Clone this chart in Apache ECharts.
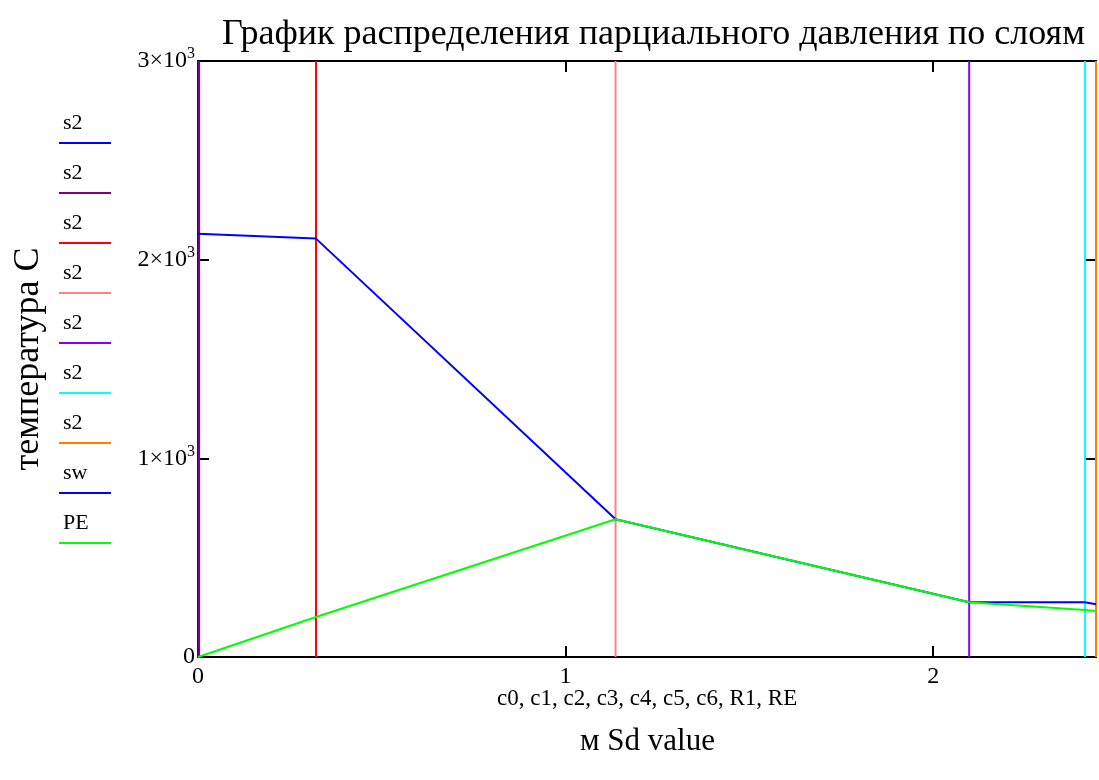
<!DOCTYPE html>
<html>
<head>
<meta charset="utf-8">
<script src="https://cdn.jsdelivr.net/npm/echarts@6/dist/echarts.min.js"></script>
<style>
html,body{margin:0;padding:0;background:#fff;}
#chart{width:1099px;height:780px;}
</style>
</head>
<body>
<div id="chart"></div>
<script>
// ---- data ----
const titleText = 'График распределения парциального давления по слоям';
const xAxisName1 = 'c0, c1, c2, c3, c4, c5, c6, R1, RE';
const xAxisName2 = 'м Sd value';
const yAxisName = 'температура C';

// boundary positions (vertical lines, series "s2")
const boundaryX = [0, 0.003, 0.321, 1.136, 2.098, 2.413, 2.443];
const boundaryNames = ['s2', 's2', 's2', 's2', 's2', 's2', 's2'];
const boundaryColors = ['#0000ff', '#800080', '#ff0000', '#ff8080', '#8000ff', '#00ffff', '#ff8000'];

// sw curve
const swX = [0, 0.321, 1.136, 2.098, 2.413, 2.443];
const swY = [2130, 2106, 693, 276, 276, 266];
// PE curve
const peX = [0, 0.321, 1.136, 2.098, 2.413, 2.443];
const peY = [0, 201, 693, 276, 236, 231];

const curveNames = ['sw', 'PE'];
const curveColors = ['#0000ff', '#00ff00'];

const xTicks = [0, 1, 2];
const yTicks = [0, 1000, 2000, 3000];
const yTickLabels = ['0', '{m|1×10}{s|3}', '{m|2×10}{s|3}', '{m|3×10}{s|3}'];
const xMin = 0, xMax = 2.443, yMin = 0, yMax = 3000;

// ---- chart ----
const chart = echarts.init(document.getElementById('chart'));
const serif = 'Liberation Serif, Times New Roman, serif';

const series = [];
boundaryX.forEach((x, i) => {
  series.push({
    name: boundaryNames[i], type: 'line', symbol: 'none',
    data: [[x, yMin], [x, yMax]],
    lineStyle: { color: boundaryColors[i], width: 2 },
    clip: false, animation: false
  });
});
series.push({
  name: curveNames[0], type: 'line', symbol: 'none',
  data: swX.map((x, i) => [x, swY[i]]),
  lineStyle: { color: curveColors[0], width: 2 }, animation: false
});
series.push({
  name: curveNames[1], type: 'line', symbol: 'none',
  data: peX.map((x, i) => [x, peY[i]]),
  lineStyle: { color: curveColors[1], width: 2 }, animation: false
});

// legend drawn as graphic: text above coloured line
const legendNames = boundaryNames.concat(curveNames);
const legendColors = boundaryColors.concat(curveColors);
const graphics = [];
legendNames.forEach((n, i) => {
  const yLine = 143 + i * 50;
  graphics.push({
    type: 'text', left: 63, top: yLine - 31,
    style: { text: n, font: '22px ' + serif, fill: '#000' }
  });
  graphics.push({
    type: 'line', shape: { x1: 59, y1: yLine, x2: 111, y2: yLine },
    style: { stroke: legendColors[i], lineWidth: 2 }
  });
});
graphics.push({
  type: 'text', left: 497, top: 687,
  style: { text: xAxisName1, font: '23px ' + serif, fill: '#000' }
});
graphics.push({
  type: 'text', top: 726, left: 580,
  style: { text: xAxisName2, font: '31px ' + serif, fill: '#000' }
});

const axisLineStyle = { show: true, onZero: false, lineStyle: { color: '#000', width: 2 } };
const tickStyle = { show: true, inside: true, length: 11, lineStyle: { color: '#000', width: 2 } };

chart.setOption({
  animation: false,
  backgroundColor: '#fff',
  title: {
    text: titleText, left: 217, top: 12,
    textStyle: { fontFamily: serif, fontSize: 36, fontWeight: 'normal', color: '#000' }
  },
  grid: { left: 198, right: 2, top: 61, bottom: 123 },
  xAxis: [{
    type: 'value', min: xMin, max: xMax, interval: 1,
    axisLine: axisLineStyle, axisTick: tickStyle, splitLine: { show: false },
    axisLabel: {
      fontFamily: serif, fontSize: 24, color: '#000', margin: 8,
      formatter: v => (xTicks.indexOf(v) >= 0 ? String(v) : '')
    }
  }, {
    type: 'value', position: 'top', min: xMin, max: xMax, interval: 1,
    axisLine: axisLineStyle, axisTick: tickStyle, splitLine: { show: false },
    axisLabel: { show: false }
  }],
  yAxis: [{
    type: 'value', min: yMin, max: yMax, interval: 1000,
    name: yAxisName, nameLocation: 'middle', nameGap: 151, nameRotate: 90,
    nameTextStyle: { fontFamily: serif, fontSize: 36, color: '#000' },
    axisLine: axisLineStyle, axisTick: tickStyle, splitLine: { show: false },
    axisLabel: {
      margin: 3, color: '#000',
      formatter: v => yTickLabels[yTicks.indexOf(v)],
      fontFamily: serif, fontSize: 24,
      rich: {
        m: { fontFamily: serif, fontSize: 24, color: '#000' },
        s: { fontFamily: serif, fontSize: 16, color: '#000', padding: [0, 0, 14, 0] }
      }
    }
  }, {
    type: 'value', position: 'right', min: yMin, max: yMax, interval: 1000,
    axisLine: axisLineStyle, axisTick: tickStyle, splitLine: { show: false },
    axisLabel: { show: false }
  }],
  series: series,
  graphic: graphics
});
</script>
</body>
</html>
